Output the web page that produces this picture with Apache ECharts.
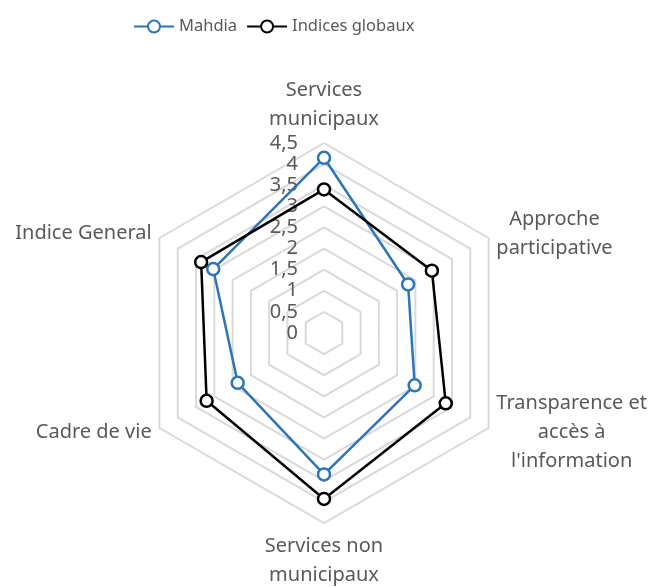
<!DOCTYPE html>
<html><head><meta charset="utf-8">
<script src="https://cdn.jsdelivr.net/npm/echarts@6/dist/echarts.min.js"></script>
<style>html,body{margin:0;padding:0;background:#fff}#c{width:656px;height:587px}</style>
</head><body><div id="c"></div>
<script>
// Data (clockwise order as in the source, starting at the top)
const categories = ['Services\nmunicipaux', 'Approche\nparticipative', 'Transparence et\naccès à\nl\'information', 'Services non\nmunicipaux', 'Cadre de vie', 'Indice General'];
const mahdia = [4.15, 2.3, 2.48, 3.35, 2.36, 3.03];
const globaux = [3.4, 2.95, 3.33, 3.93, 3.21, 3.36];
const seriesNames = ['Mahdia', 'Indices globaux'];
const tickMax = 4.5;
const tickStep = 0.5;

// ECharts radar places indicators counter-clockwise: reorder
const order = [0, 5, 4, 3, 2, 1];
const reorder = arr => order.map(i => arr[i]);

const textColor = '#595959';
const font = 'Noto Sans';
const chart = echarts.init(document.getElementById('c'), null, {renderer: 'canvas'});
const cx = 324, cy = 333, R = 190;
const legendIcon = 'path://M0,6L14,6M26,6L40,6M26,6A6,6,0,1,1,14,6A6,6,0,1,1,26,6Z';

chart.setOption({
  animation: false,
  legend: {
    left: 128, top: 13,
    itemWidth: 40, itemHeight: 12, itemGap: 9,
    icon: legendIcon,
    textStyle: {color: textColor, fontSize: 16.5, fontFamily: font},
    data: seriesNames
  },
  radar: {
    center: [cx, cy], radius: R,
    startAngle: 90,
    shape: 'polygon', splitNumber: 9,
    indicator: reorder(categories).map(n => ({name: n, min: 0, max: tickMax})),
    axisName: {
      color: textColor, fontSize: 20, fontFamily: font,
      formatter: n => n.split('\n').map(l => '{c|' + l + '}').join('\n'),
      rich: {c: {align: 'center', color: textColor, fontSize: 20, fontFamily: font, lineHeight: 29}}
    },
    nameGap: 9,
    axisLine: {show: false},
    axisTick: {show: false},
    axisLabel: {show: false},
    splitArea: {show: false},
    splitLine: {lineStyle: {color: '#d9d9d9', width: 2}}
  },
  polar: {center: [cx, cy], radius: R},
  angleAxis: {show: false, startAngle: 90, min: 0, max: 360},
  radiusAxis: {
    min: 0, max: tickMax, interval: tickStep,
    axisLine: {show: false}, axisTick: {show: false}, splitLine: {show: false},
    axisLabel: {
      color: textColor, fontSize: 20, fontFamily: font, margin: 26,
      formatter: v => String(v).replace('.', ',')
    }
  },
  series: [{
    type: 'radar',
    symbol: 'circle', symbolSize: 12,
    data: [
      {name: seriesNames[0], value: reorder(mahdia),
       lineStyle: {color: '#2E75B6', width: 2.5},
       itemStyle: {color: '#fff', borderColor: '#2E75B6', borderWidth: 2.5}},
      {name: seriesNames[1], value: reorder(globaux),
       lineStyle: {color: '#000', width: 2.5},
       itemStyle: {color: '#fff', borderColor: '#000', borderWidth: 2.5}}
    ]
  }]
});
</script></body></html>
